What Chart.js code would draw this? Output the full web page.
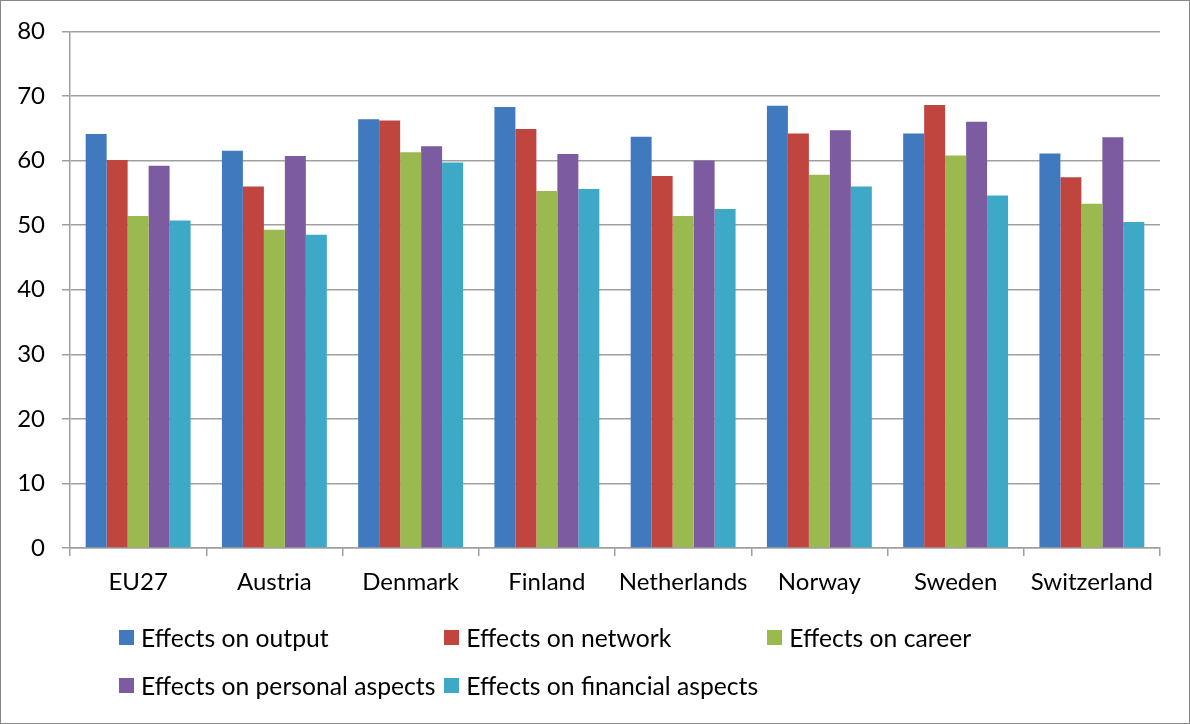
<!DOCTYPE html>
<html>
<head>
<meta charset="utf-8">
<script src="https://cdn.jsdelivr.net/npm/chart.js@4/dist/chart.umd.min.js"></script>
<style>
  body { margin: 0; background: #fff; }
  #wrap { position: relative; width: 1190px; height: 724px; }
  #wrap canvas { position: absolute; left: 0; top: 0; }
  #frame { position: absolute; inset: 0; border: 1px solid #868686; pointer-events: none; }
  #legend {
    position: absolute; left: 119px; top: 622px;
    display: grid; grid-template-columns: repeat(3, auto);
    column-gap: 9px; row-gap: 18px;
    font-family: Lato, "Open Sans", sans-serif; font-size: 24.7px; color: #000;
  }
  .item { display: flex; align-items: center; height: 30px; white-space: nowrap; }
  .box { width: 15px; height: 15px; margin-right: 7px; flex: none; }
</style>
</head>
<body>
<div id="wrap">
  <canvas id="chart" width="1190" height="724"></canvas>
  <div id="legend"></div>
  <div id="frame"></div>
</div>
<script>
// categories and series
const countries = ['EU27', 'Austria', 'Denmark', 'Finland', 'Netherlands', 'Norway', 'Sweden', 'Switzerland'];
const seriesNames = ['Effects on output', 'Effects on network', 'Effects on career',
                     'Effects on personal aspects', 'Effects on financial aspects'];
const output    = [64.1, 61.5, 66.4, 68.3, 63.7, 68.5, 64.2, 61.1];
const network   = [60.1, 56.0, 66.2, 64.9, 57.6, 64.2, 68.6, 57.4];
const career    = [51.4, 49.3, 61.3, 55.3, 51.4, 57.8, 60.8, 53.3];
const personal  = [59.2, 60.7, 62.2, 61.0, 60.0, 64.7, 66.0, 63.6];
const financial = [50.7, 48.5, 59.7, 55.6, 52.5, 56.0, 54.6, 50.5];
const yTicks = [0, 10, 20, 30, 40, 50, 60, 70, 80];

const colors = ['#4179be', '#c1453f', '#9aba50', '#7c5ba0', '#3ea9c6'];
const allValues = [output, network, career, personal, financial];

const datasets = allValues.map((vals, i) => ({
  label: seriesNames[i],
  data: vals,
  backgroundColor: colors[i],
  borderWidth: 0,
  barPercentage: 1.0,
  categoryPercentage: 0.77
}));

const font = { family: 'Lato, "Open Sans", sans-serif', size: 24 };
const gridGray = '#a0a0a0';

new Chart(document.getElementById('chart'), {
  type: 'bar',
  data: { labels: countries, datasets: datasets },
  options: {
    responsive: false,
    animation: false,
    layout: { padding: { top: 31, right: 30, bottom: 0, left: 0 } },
    plugins: { legend: { display: false }, tooltip: { enabled: false } },
    scales: {
      x: {
        afterFit: s => { s.height = 176; },
        grid: { display: true, offset: true, drawOnChartArea: false, drawTicks: true,
                tickLength: 8, color: gridGray, lineWidth: 1.5 },
        border: { color: gridGray, width: 1.5 },
        ticks: { color: '#000', font: font, padding: 12, maxRotation: 0, autoSkip: false }
      },
      y: {
        min: 0, max: 80,
        afterFit: s => { s.width = 70; },
        afterBuildTicks: s => { s.ticks = yTicks.map(v => ({ value: v })); },
        grid: { color: gridGray, lineWidth: 1.5, tickLength: 8 },
        border: { color: gridGray, width: 1.5 },
        ticks: { color: '#000', font: font, padding: 17 }
      }
    }
  }
});

// legend in columns, like the original
const legend = document.getElementById('legend');
seriesNames.forEach((name, i) => {
  const item = document.createElement('div');
  item.className = 'item';
  const box = document.createElement('span');
  box.className = 'box';
  box.style.background = colors[i];
  const txt = document.createElement('span');
  txt.textContent = name;
  item.appendChild(box);
  item.appendChild(txt);
  legend.appendChild(item);
});
</script>
</body>
</html>
